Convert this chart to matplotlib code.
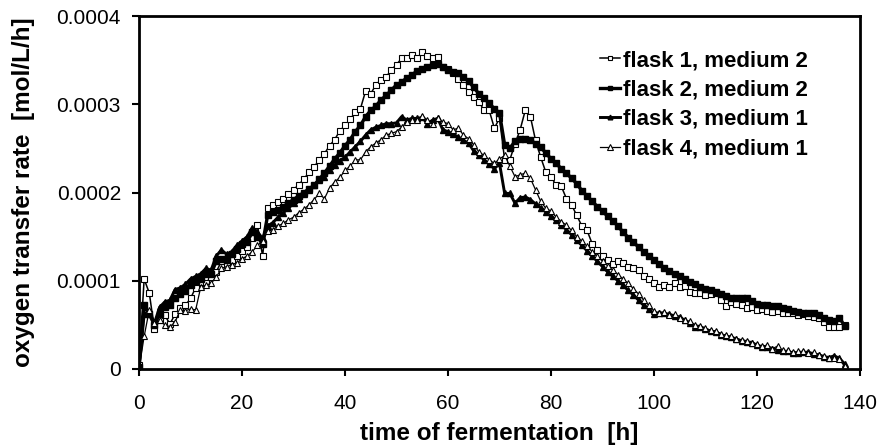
import numpy as np
import matplotlib
matplotlib.use('Agg')
import matplotlib.pyplot as plt

plt.rcParams['font.family'] = ['Liberation Sans', 'DejaVu Sans']

# sampling times [h], one reading per hour
hours = list(range(138))

# oxygen transfer rate, in units of 1e-4 mol/L/h
flask1_med2 = [
    0.05, 1.02, 0.86, 0.45, 0.55, 0.61, 0.51, 0.62, 0.69, 0.72,
    0.80, 0.92, 0.99, 0.98, 1.04, 1.10, 1.22, 1.18, 1.24, 1.28,
    1.34, 1.38, 1.48, 1.63, 1.28, 1.82, 1.86, 1.89, 1.93, 1.98,
    2.03, 2.09, 2.15, 2.23, 2.29, 2.37, 2.44, 2.53, 2.60, 2.70,
    2.76, 2.83, 2.91, 2.95, 3.15, 3.12, 3.22, 3.28, 3.31, 3.39,
    3.45, 3.52, 3.52, 3.56, 3.52, 3.59, 3.55, 3.52, 3.53, 3.42,
    3.40, 3.35, 3.29, 3.22, 3.14, 3.08, 3.03, 2.93, 2.93, 2.73,
    2.84, 2.37, 2.37, 2.55, 2.71, 2.93, 2.86, 2.59, 2.40, 2.23,
    2.18, 2.08, 2.07, 1.93, 1.86, 1.74, 1.62, 1.57, 1.42, 1.35,
    1.28, 1.23, 1.19, 1.22, 1.20, 1.16, 1.14, 1.12, 1.05, 1.02,
    0.98, 0.93, 0.95, 0.93, 0.97, 0.93, 0.94, 0.87, 0.86, 0.86,
    0.84, 0.85, 0.86, 0.78, 0.71, 0.76, 0.74, 0.72, 0.69, 0.70,
    0.67, 0.68, 0.66, 0.65, 0.66, 0.64, 0.63, 0.64, 0.61, 0.62,
    0.60, 0.59, 0.58, 0.53, 0.48, 0.48, 0.48, 0.50,
]
flask2_med2 = [
    0.02, 0.72, 0.62, 0.50, 0.62, 0.70, 0.72, 0.80, 0.85, 0.88,
    0.95, 1.00, 1.02, 1.08, 1.08, 1.22, 1.25, 1.24, 1.30, 1.36,
    1.42, 1.44, 1.55, 1.50, 1.42, 1.75, 1.78, 1.80, 1.84, 1.88,
    1.92, 1.96, 2.00, 2.04, 2.08, 2.15, 2.22, 2.30, 2.38, 2.45,
    2.53, 2.60, 2.69, 2.76, 2.86, 2.93, 2.98, 3.05, 3.10, 3.16,
    3.22, 3.25, 3.30, 3.33, 3.38, 3.40, 3.42, 3.44, 3.46, 3.42,
    3.39, 3.37, 3.35, 3.31, 3.26, 3.19, 3.12, 3.07, 3.01, 2.95,
    2.90, 2.54, 2.50, 2.58, 2.61, 2.61, 2.60, 2.55, 2.51, 2.45,
    2.38, 2.33, 2.27, 2.22, 2.16, 2.10, 2.02, 1.96, 1.90, 1.84,
    1.79, 1.73, 1.68, 1.62, 1.55, 1.49, 1.44, 1.38, 1.33, 1.28,
    1.24, 1.19, 1.15, 1.11, 1.08, 1.05, 1.02, 0.99, 0.96, 0.93,
    0.91, 0.89, 0.87, 0.85, 0.83, 0.81, 0.81, 0.80, 0.80, 0.77,
    0.74, 0.72, 0.72, 0.71, 0.71, 0.69, 0.68, 0.66, 0.65, 0.64,
    0.64, 0.63, 0.61, 0.58, 0.55, 0.54, 0.58, 0.49,
]
flask3_med1 = [
    0.00, 0.62, 0.65, 0.52, 0.70, 0.76, 0.78, 0.90, 0.92, 0.96,
    1.02, 1.05, 1.08, 1.14, 1.12, 1.28, 1.35, 1.30, 1.33, 1.40,
    1.45, 1.50, 1.60, 1.55, 1.48, 1.62, 1.66, 1.72, 1.77, 1.82,
    1.88, 1.93, 1.98, 2.03, 2.09, 2.14, 2.18, 2.25, 2.31, 2.36,
    2.40, 2.46, 2.52, 2.58, 2.65, 2.71, 2.74, 2.76, 2.78, 2.78,
    2.79, 2.86, 2.82, 2.84, 2.84, 2.85, 2.78, 2.82, 2.84, 2.71,
    2.69, 2.66, 2.63, 2.59, 2.56, 2.47, 2.43, 2.37, 2.32, 2.27,
    2.33, 1.99, 1.99, 1.88, 1.94, 1.95, 1.92, 1.87, 1.83, 1.78,
    1.73, 1.69, 1.63, 1.58, 1.52, 1.46, 1.40, 1.34, 1.28, 1.22,
    1.16, 1.10, 1.05, 1.00, 0.95, 0.89, 0.84, 0.78, 0.72, 0.68,
    0.62, 0.64, 0.63, 0.62, 0.60, 0.59, 0.55, 0.52, 0.48, 0.48,
    0.45, 0.43, 0.42, 0.39, 0.37, 0.36, 0.34, 0.32, 0.31, 0.30,
    0.27, 0.25, 0.25, 0.23, 0.22, 0.20, 0.20, 0.18, 0.18, 0.19,
    0.19, 0.17, 0.16, 0.14, 0.13, 0.15, 0.12, 0.06,
]
flask4_med1 = [
    0.00, 0.37, 0.67, 0.52, 0.55, 0.50, 0.48, 0.53, 0.67, 0.66,
    0.68, 0.67, 0.93, 0.95, 0.97, 1.04, 1.14, 1.16, 1.18, 1.20,
    1.25, 1.28, 1.33, 1.40, 1.45, 1.56, 1.58, 1.62, 1.65, 1.69,
    1.72, 1.77, 1.81, 1.86, 1.92, 1.99, 1.93, 2.05, 2.12, 2.17,
    2.25, 2.30, 2.37, 2.37, 2.46, 2.52, 2.56, 2.60, 2.65, 2.67,
    2.69, 2.74, 2.80, 2.82, 2.82, 2.87, 2.82, 2.78, 2.84, 2.80,
    2.78, 2.71, 2.73, 2.65, 2.61, 2.54, 2.46, 2.42, 2.37, 2.33,
    2.38, 2.42, 2.30, 2.18, 2.20, 2.22, 2.16, 2.03, 1.90, 1.82,
    1.79, 1.72, 1.67, 1.63, 1.57, 1.50, 1.45, 1.39, 1.33, 1.28,
    1.22, 1.17, 1.12, 1.07, 1.02, 0.97, 0.91, 0.85, 0.78, 0.72,
    0.66, 0.63, 0.65, 0.61, 0.62, 0.58, 0.55, 0.54, 0.50, 0.49,
    0.46, 0.44, 0.43, 0.40, 0.38, 0.37, 0.34, 0.33, 0.32, 0.29,
    0.28, 0.26, 0.27, 0.23, 0.26, 0.21, 0.21, 0.19, 0.20, 0.20,
    0.18, 0.19, 0.16, 0.15, 0.13, 0.12, 0.11, 0.03,
]

labels = ['flask 1, medium 2', 'flask 2, medium 2',
          'flask 3, medium 1', 'flask 4, medium 1']
x_ticks = [0, 20, 40, 60, 80, 100, 120, 140]
y_ticks = [0, 0.0001, 0.0002, 0.0003, 0.0004]
y_tick_labels = ['0', '0.0001', '0.0002', '0.0003', '0.0004']

fig = plt.figure(figsize=(8.81, 4.47), dpi=100)
ax = fig.add_axes([139 / 881, 1 - 369 / 447, 721 / 881, 353 / 447])

scale = 1e-4
ax.plot(hours, np.array(flask1_med2) * scale, color='black', lw=1.1,
        marker='s', ms=4.5, mfc='white', mec='black', mew=0.8, label=labels[0])
ax.plot(hours, np.array(flask2_med2) * scale, color='black', lw=2.4,
        marker='s', ms=3.8, mfc='black', mec='black', label=labels[1])
ax.plot(hours, np.array(flask3_med1) * scale, color='black', lw=2.1,
        marker='^', ms=4.5, mfc='black', mec='black', label=labels[2])
ax.plot(hours, np.array(flask4_med1) * scale, color='black', lw=0.9,
        marker='^', ms=5, mfc='white', mec='black', mew=0.8, label=labels[3])

ax.set_xlim(0, 140)
ax.set_ylim(0, 0.0004)
ax.set_xticks(x_ticks)
ax.set_yticks(y_ticks)
ax.set_yticklabels(y_tick_labels)
ax.tick_params(direction='out', length=5, width=1.5, labelsize=15)
ax.tick_params(axis='x', pad=13)
ax.tick_params(axis='y', pad=8)
for sp in ax.spines.values():
    sp.set_linewidth(2)

ax.set_xlabel('time of fermentation  [h]', fontsize=17.5, fontweight='bold')
ax.set_ylabel('oxygen transfer rate  [mol/L/h]', fontsize=17.5, fontweight='bold')
ax.xaxis.set_label_coords(0.5, -0.15)
ax.yaxis.set_label_coords(-0.144, 0.5)

ax.legend(loc='upper left', bbox_to_anchor=(600 / 881, 1 - 50 / 447),
          bbox_transform=fig.transFigure, frameon=False,
          prop={'weight': 'bold', 'size': 16}, handlelength=0.9,
          handletextpad=0.15, labelspacing=0.38, numpoints=1,
          borderpad=0, borderaxespad=0, markerscale=0.75)

plt.savefig('out.png', dpi=100)
plt.close()
